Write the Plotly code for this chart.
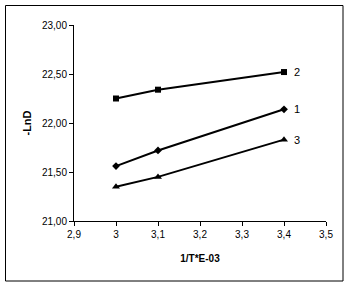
import plotly.graph_objects as go

x_vals = [3.0, 3.1, 3.4]
series_1 = [21.56, 21.72, 22.14]
series_2 = [22.25, 22.34, 22.52]
series_3 = [21.35, 21.45, 21.83]
names = ["1", "2", "3"]
symbols = ["diamond", "square", "triangle-up"]
sizes = [6, 6, 7]

fig = go.Figure()
for name, ys, sym, sz in zip(names, [series_1, series_2, series_3], symbols, sizes):
    fig.add_trace(go.Scatter(
        x=x_vals, y=ys, mode="lines+markers", name=name,
        line=dict(color="black", width=2),
        marker=dict(symbol=sym, size=sz, color="black"),
        showlegend=False,
    ))
    fig.add_annotation(x=x_vals[-1], y=ys[-1], text=name, showarrow=False,
                       xanchor="left", xshift=8, font=dict(size=11, color="black",
                       family="Liberation Sans, Arial, sans-serif"))

fig.update_layout(
    width=350, height=286,
    margin=dict(l=74, r=24, t=25, b=65),
    paper_bgcolor="white", plot_bgcolor="white",
    separators=",.",
    font=dict(family="Liberation Sans, Arial, sans-serif", size=10, color="black"),
    xaxis=dict(range=[2.9, 3.5], tickvals=[2.9, 3.0, 3.1, 3.2, 3.3, 3.4, 3.5],
               ticktext=["2,9", "3", "3,1", "3,2", "3,3", "3,4", "3,5"],
               showgrid=False, zeroline=False, showline=True, linecolor="black",
               linewidth=1, ticks="outside", ticklen=4, tickcolor="black",
               title=dict(text="<b>1/T*E-03</b>", font=dict(size=10), standoff=15)),
    yaxis=dict(range=[21, 23], dtick=0.5, tickformat=".2f",
               showgrid=False, zeroline=False, showline=True, linecolor="black",
               linewidth=1, ticks="outside", ticklen=4, tickcolor="black",
               title=dict(text="<b>-LnD</b>", font=dict(size=11), standoff=8)),
    shapes=[dict(type="rect", xref="paper", yref="paper",
                 x0=(5.5 - 74) / 252, x1=(343 - 74) / 252,
                 y0=(221 - 281) / 196, y1=(221 - 5.5) / 196,
                 line=dict(color="black", width=1))],
)

fig.write_html("out.html")
